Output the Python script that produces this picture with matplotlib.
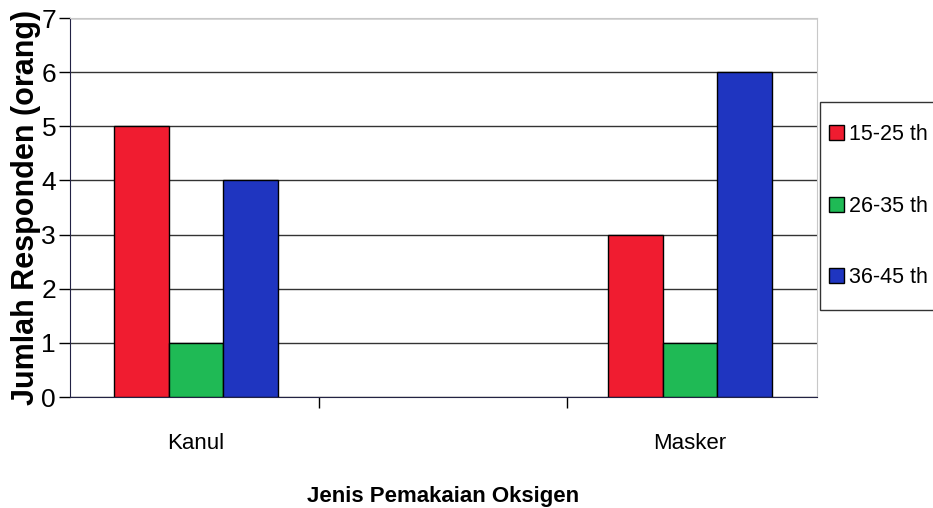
import numpy as np
import matplotlib
matplotlib.use("Agg")
import matplotlib.pyplot as plt
from matplotlib.patches import Rectangle

# data
kategori = ["Kanul", "Masker"]
kelompok_umur = ["15-25 th", "26-35 th", "36-45 th"]
usia_15_25 = [5, 3]
usia_26_35 = [1, 1]
usia_36_45 = [4, 6]
y_ticks = [0, 1, 2, 3, 4, 5, 6, 7]

warna = ["#f01c30", "#1fba55", "#1f35c0"]
plt.rcParams['font.family'] = ['Liberation Sans', 'DejaVu Sans']

fig = plt.figure(figsize=(9.33, 5.08), dpi=100)
ax = fig.add_axes([0.075, 0.2185, 0.8007, 0.746])

x = np.arange(len(kategori))
lebar = 0.111
for i, (nilai, lbl) in enumerate(zip([usia_15_25, usia_26_35, usia_36_45], kelompok_umur)):
    ax.bar(x + (i - 1) * lebar, nilai, lebar, color=warna[i], edgecolor="black",
           linewidth=1.0, label=lbl, zorder=3)

ax.set_ylim(0, 7)
ax.set_xlim(-0.255, 1.257)
ax.set_yticks(y_ticks)
ax.set_yticklabels([str(t) for t in y_ticks], fontsize=19)
ax.yaxis.grid(True, color="#333333", linewidth=1.0, zorder=0)
ax.tick_params(axis="y", length=8, width=1, pad=2, direction="out")

# tick marks between categories, labels at category centres
ax.set_xticks([0.25, 0.75])
ax.set_xticklabels(["", ""])
ax.set_xticks(x, minor=True)
ax.set_xticklabels(kategori, minor=True, fontsize=16)
ax.tick_params(axis="x", which="minor", length=0, pad=26)
ax.tick_params(axis="x", which="major", length=8, width=1, direction="out")

for s in ["top", "right"]:
    ax.spines[s].set_color("#c8c8c8")
ax.spines["left"].set_color("#222244")
ax.spines["bottom"].set_color("#222244")

ax.set_xlabel("Jenis Pemakaian Oksigen", fontsize=16, fontweight="bold", labelpad=23)
ax.set_ylabel("Jumlah Responden (orang)", fontsize=22, fontweight="bold", labelpad=0)

# legend box drawn separately (it runs off the right edge like the original)
fig.patches.append(Rectangle((820 / 933, 1 - 310 / 508), 0.2, 208 / 508,
                             transform=fig.transFigure, facecolor="white",
                             edgecolor="#333333", linewidth=1.0, zorder=-1))
leg = ax.legend(loc="upper left", bbox_to_anchor=(829 / 933, 1 - 124 / 508),
                bbox_transform=fig.transFigure,
                fontsize=15.5, frameon=False,
                handlelength=0.7, handleheight=0.7, handletextpad=0.25,
                labelspacing=2.35, borderpad=0, borderaxespad=0)

fig.savefig("out.png", dpi=100)
